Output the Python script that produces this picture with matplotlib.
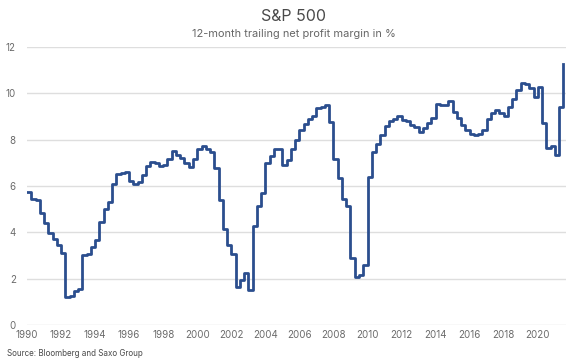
"""
S&P 500 12-month trailing net profit margin, 1990-2021.
Outputs out.png.
"""

import numpy as np
import matplotlib
matplotlib.use("Agg")
import matplotlib.pyplot as plt

plt.rcParams["font.family"] = ["Inter", "DejaVu Sans"]

# quarterly readings, first quarter of 1990 onwards
START_YEAR = 1990
margin = [
    5.72, 5.42, 5.40, 4.85,   # 1990
    4.40, 3.95, 3.70, 3.45,   # 1991
    3.09, 1.20, 1.25, 1.48,   # 1992
    1.54, 3.00, 3.05, 3.35,   # 1993
    3.65, 4.45, 5.00, 5.30,   # 1994
    6.10, 6.52, 6.56, 6.58,   # 1995
    6.20, 6.08, 6.18, 6.45,   # 1996
    6.85, 7.01, 6.97, 6.87,   # 1997
    6.90, 7.15, 7.50, 7.35,   # 1998
    7.20, 6.97, 6.82, 7.15,   # 1999
    7.60, 7.70, 7.60, 7.47,   # 2000
    6.75, 5.39, 4.15, 3.45,   # 2001
    3.05, 1.62, 1.95, 2.23,   # 2002
    1.52, 4.25, 5.15, 5.70,   # 2003
    7.00, 7.30, 7.58, 7.58,   # 2004
    6.90, 7.10, 7.60, 7.97,   # 2005
    8.40, 8.69, 8.90, 9.00,   # 2006
    9.38, 9.42, 9.50, 8.76,   # 2007
    7.15, 6.35, 5.45, 5.15,   # 2008
    2.90, 2.05, 2.15, 2.59,   # 2009
    6.40, 7.45, 7.80, 8.20,   # 2010
    8.60, 8.80, 8.90, 9.00,   # 2011
    8.84, 8.80, 8.62, 8.52,   # 2012
    8.33, 8.48, 8.70, 8.95,   # 2013
    9.55, 9.50, 9.48, 9.66,   # 2014
    9.20, 8.95, 8.62, 8.40,   # 2015
    8.25, 8.19, 8.25, 8.41,   # 2016
    8.90, 9.15, 9.27, 9.13,   # 2017
    9.01, 9.40, 9.73, 10.15,  # 2018
    10.44, 10.40, 10.24, 9.85,  # 2019
    10.27, 8.72, 7.62, 7.72,  # 2020
    7.35, 9.40, 11.28,        # 2021
]

year_ticks = list(range(1990, 2021, 2))
margin_ticks = [0, 2, 4, 6, 8, 10, 12]

TITLE = "S&P 500"
SUBTITLE = "12-month trailing net profit margin in %"
SOURCE = "Source: Bloomberg and Saxo Group"

LINE_COLOR = "#2b4e8e"
GRID_COLOR = "#dedede"
TEXT_COLOR = "#6b6b6b"


def make_chart():
    years = START_YEAR + np.arange(len(margin)) / 4.0

    fig = plt.figure(figsize=(5.87, 3.63), dpi=100)
    ax = fig.add_axes([0.046, 0.105, 0.918, 0.766])

    ax.plot(years, margin, color=LINE_COLOR, lw=2.0, drawstyle="steps-post",
            solid_joinstyle="round", zorder=3)

    ax.set_xlim(1990, 2021.65)
    ax.set_ylim(0, 12)
    ax.set_xticks(year_ticks)
    ax.set_yticks(margin_ticks)
    ax.grid(axis="y", color=GRID_COLOR, lw=1.0)
    ax.set_axisbelow(True)
    for side in ax.spines.values():
        side.set_visible(False)
    ax.tick_params(length=0, labelsize=7, labelcolor=TEXT_COLOR)
    ax.tick_params(axis="y", pad=8)
    ax.tick_params(axis="x", pad=4)

    fig.text(0.5, 0.955, TITLE, ha="center", va="center", fontsize=11.5,
             color="#4a4a4a")
    fig.text(0.5, 0.907, SUBTITLE, ha="center", va="center", fontsize=7.9,
             color="#666666")
    fig.text(0.012, 0.027, SOURCE, ha="left", va="center", fontsize=5.8,
             color="#4a4a4a")

    fig.savefig("out.png", dpi=100)
    plt.close(fig)


if __name__ == "__main__":
    make_chart()
